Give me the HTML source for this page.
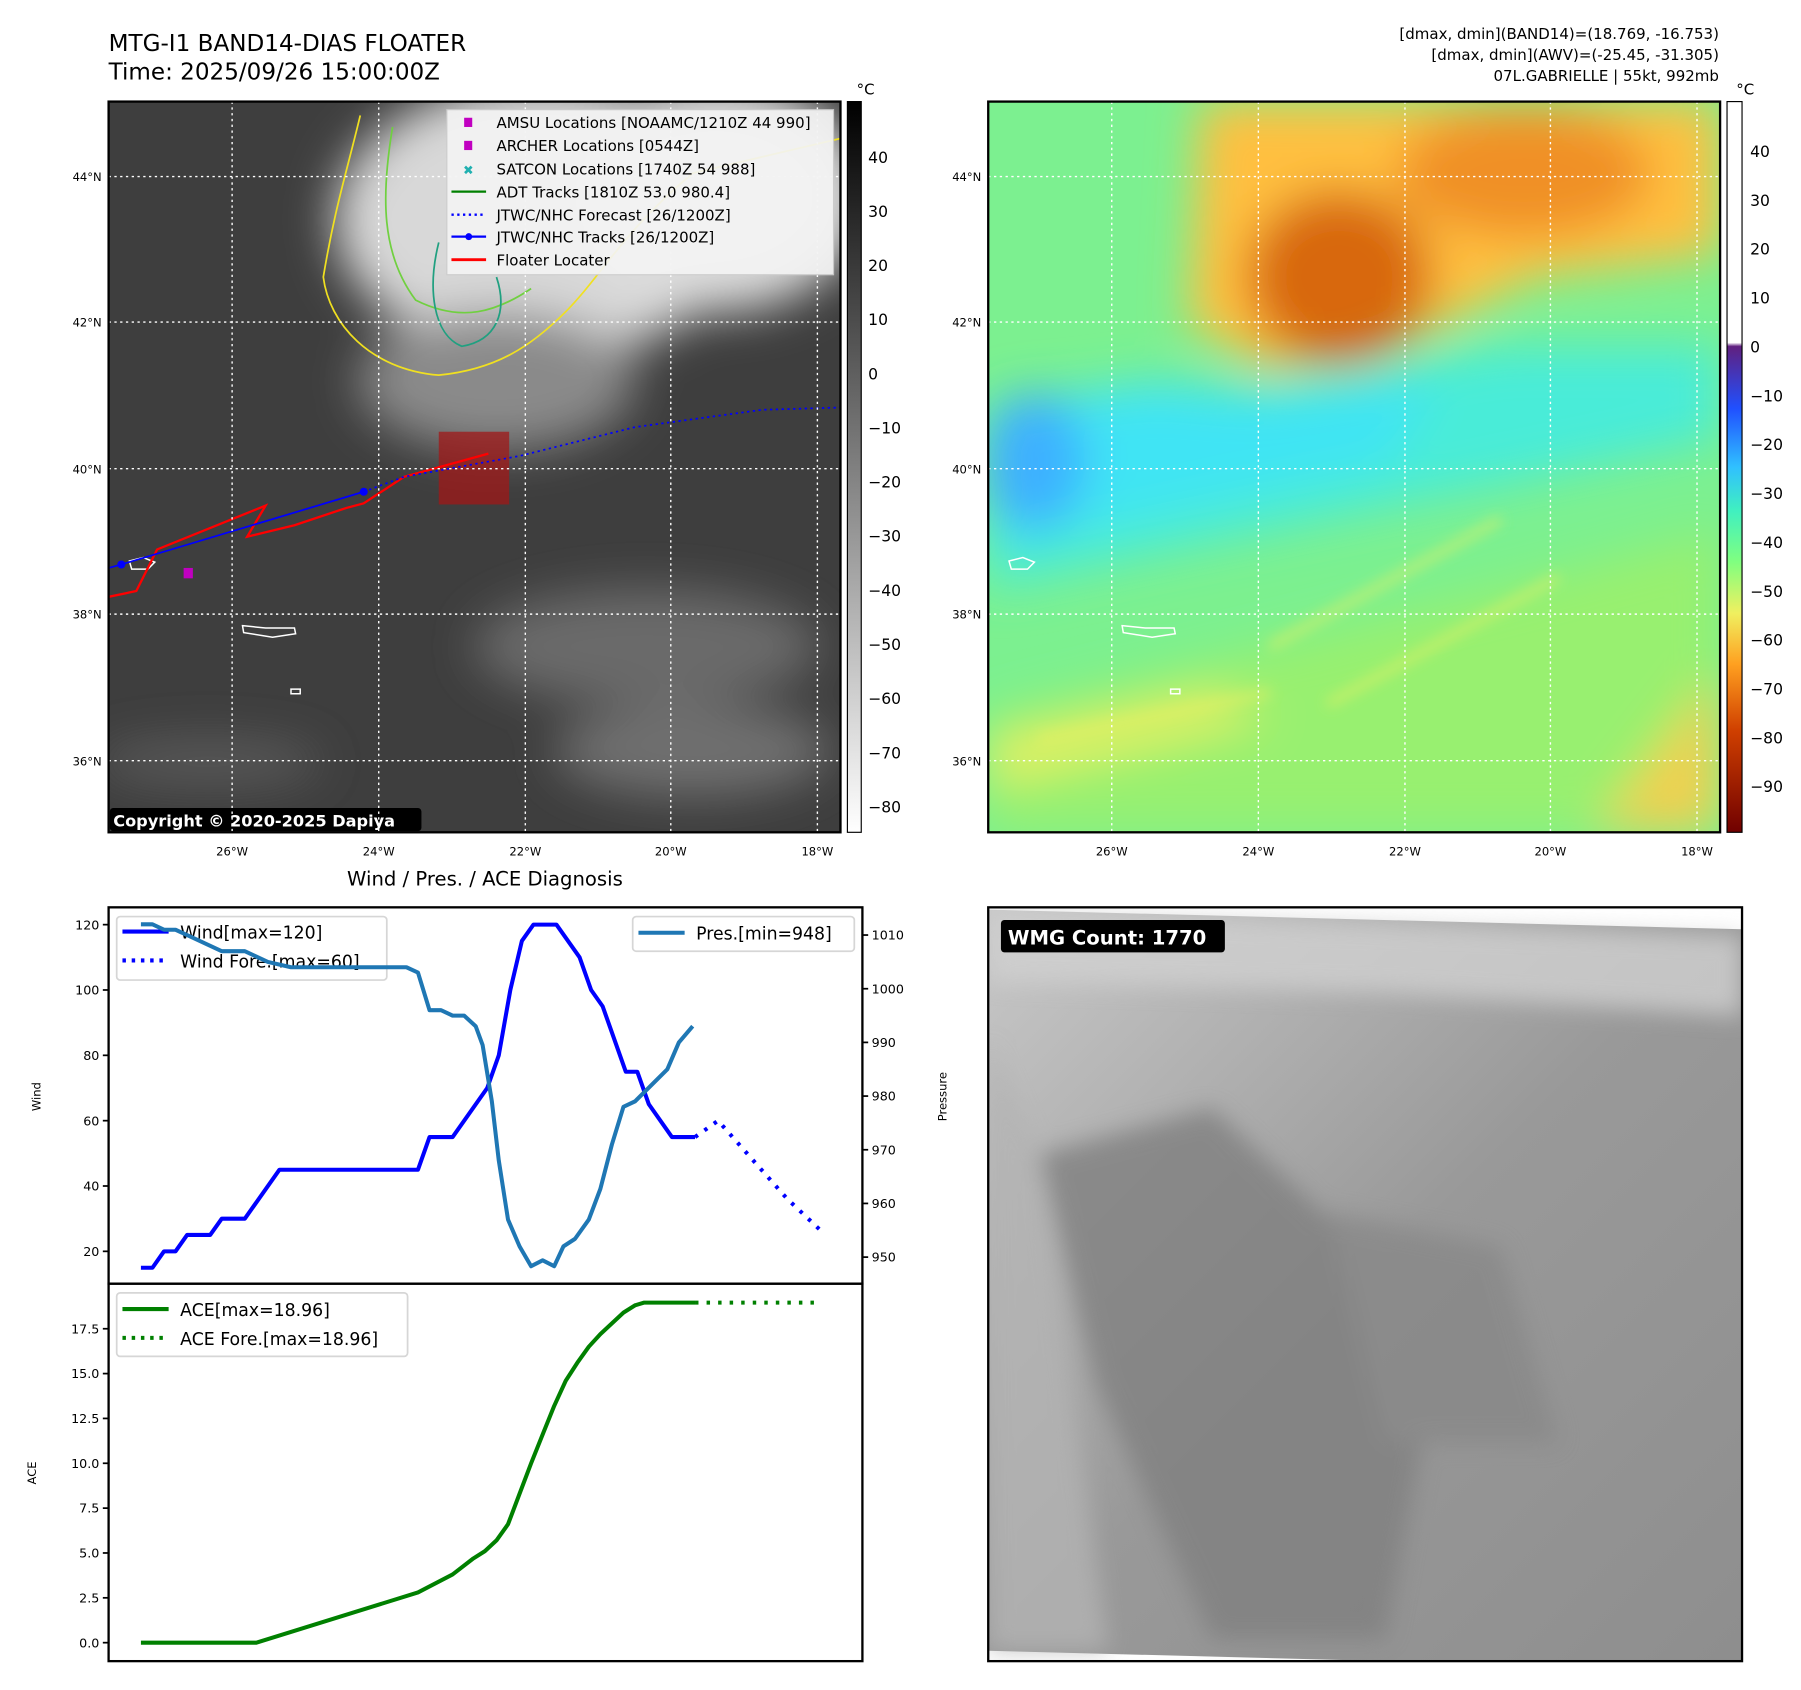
<!DOCTYPE html>
<html><head><meta charset="utf-8">
<style>
html,body{margin:0;padding:0;background:#fff;}
svg{display:block;font-family:"DejaVu Sans","Liberation Sans",sans-serif;}
</style></head>
<body>
<svg id="fig" width="1801" height="1690" viewBox="0 0 1560 1464" xmlns="http://www.w3.org/2000/svg">
<defs>
<clipPath id="c1"><rect x="94" y="88" width="634" height="633"/></clipPath>
<clipPath id="c2"><rect x="856" y="88" width="634" height="633"/></clipPath>
<clipPath id="c3"><rect x="856" y="786" width="653" height="653"/></clipPath>
<filter id="b20"><feGaussianBlur stdDeviation="20"/></filter>
<filter id="b10"><feGaussianBlur stdDeviation="10"/></filter>
<filter id="b6"><feGaussianBlur stdDeviation="6"/></filter>
<linearGradient id="gcb" x1="0" y1="0" x2="0" y2="1"><stop offset="0" stop-color="#000"/><stop offset="1" stop-color="#fff"/></linearGradient>
<linearGradient id="ccb" x1="0" y1="0" x2="0" y2="1">
<stop offset="0" stop-color="#ffffff"/><stop offset="0.33" stop-color="#ffffff"/>
<stop offset="0.335" stop-color="#602080"/><stop offset="0.42" stop-color="#2050ff"/>
<stop offset="0.5" stop-color="#30c0ff"/><stop offset="0.56" stop-color="#40f0c0"/>
<stop offset="0.63" stop-color="#80ff80"/><stop offset="0.7" stop-color="#f0f060"/>
<stop offset="0.77" stop-color="#ffa020"/><stop offset="0.86" stop-color="#d04000"/>
<stop offset="1" stop-color="#700000"/></linearGradient>
<linearGradient id="wgrey" x1="0" y1="0" x2="1" y2="1">
<stop offset="0" stop-color="#c8c8c8"/><stop offset="0.5" stop-color="#999"/><stop offset="1" stop-color="#8e8e8e"/></linearGradient>
</defs>

<text x="94" y="44" font-size="20">MTG-I1 BAND14-DIAS FLOATER</text>
<text x="94" y="69" font-size="20">Time: 2025/09/26 15:00:00Z</text>
<g font-size="13" text-anchor="end">
<text x="1489" y="34">[dmax, dmin](BAND14)=(18.769, -16.753)</text>
<text x="1489" y="52">[dmax, dmin](AWV)=(-25.45, -31.305)</text>
<text x="1489" y="70">07L.GABRIELLE | 55kt, 992mb</text>
</g>

<!-- MAP 1 -->
<g clip-path="url(#c1)">
<rect x="94" y="88" width="634" height="633" fill="#3e3e3e"/>
<g filter="url(#b20)">
<ellipse cx="470" cy="190" rx="180" ry="120" fill="#d8d8d8"/>
<ellipse cx="620" cy="170" rx="130" ry="100" fill="#dcdcdc"/>
<ellipse cx="430" cy="330" rx="120" ry="60" fill="#8a8a8a"/>
<ellipse cx="560" cy="560" rx="150" ry="50" fill="#6a6a6a"/>
<ellipse cx="600" cy="650" rx="120" ry="40" fill="#6f6f6f"/>
<ellipse cx="180" cy="660" rx="100" ry="20" fill="#5a5a5a"/>
</g>
<g fill="none" stroke-width="1.5">
<path d="M312,100 C300,150 290,180 280,240 C285,280 320,320 380,325 C430,320 460,300 490,270 C520,240 540,200 600,150 L728,120" stroke="#f0e020"/>
<path d="M340,110 C330,170 330,220 360,260 C400,280 430,270 460,250" stroke="#70d040"/>
<path d="M380,210 C370,250 375,290 400,300 C430,295 440,270 430,240" stroke="#20a080"/>
</g>
<rect x="380" y="374" width="61" height="63" fill="#a01818" opacity="0.75"/>
<g fill="none" stroke="#fff" stroke-width="1.3">
<path d="M112,486 l12,-3 l10,4 l-6,6 l-14,0z"/>
<path d="M210,542 l20,2 l25,0 l1,5 l-20,3 l-25,-4z"/>
<path d="M252,597 l8,0 l0,4 l-8,0z"/>
</g>
<polyline points="94,517 118,512 136,476 230,438 214,465 255,455 300,440 315,436 350,413 423,393" fill="none" stroke="#ff0000" stroke-width="2"/>
<polyline points="94,492 105,489 315,426" fill="none" stroke="#0000ff" stroke-width="1.5"/>
<circle cx="105" cy="489" r="3.5" fill="#0000ff"/><circle cx="315" cy="426" r="3.5" fill="#0000ff"/>
<polyline points="315,426 350,413 450,395 550,370 660,355 728,353" fill="none" stroke="#0000ff" stroke-width="1.5" stroke-dasharray="2,3"/>
<rect x="159" y="492" width="8" height="9" fill="#c000c0"/>
<rect x="95" y="700" width="270" height="20" rx="3" fill="#000"/>
<text x="98" y="716" font-size="14" font-weight="bold" fill="#fff">Copyright © 2020-2025 Dapiya</text>
</g>
<g stroke="#fff" stroke-width="1.2" stroke-dasharray="2,3">
<line x1="201" y1="88" x2="201" y2="721"/><line x1="328" y1="88" x2="328" y2="721"/><line x1="455" y1="88" x2="455" y2="721"/><line x1="581" y1="88" x2="581" y2="721"/><line x1="708" y1="88" x2="708" y2="721"/>
<line x1="94" y1="153" x2="728" y2="153"/><line x1="94" y1="279" x2="728" y2="279"/><line x1="94" y1="406" x2="728" y2="406"/><line x1="94" y1="532" x2="728" y2="532"/><line x1="94" y1="659" x2="728" y2="659"/>
</g>
<rect x="94" y="88" width="634" height="633" fill="none" stroke="#000" stroke-width="2"/>
<g font-size="13">
<rect x="387" y="95" width="335" height="143" fill="#f4f4f4" opacity="0.92" stroke="#ccc"/>
<rect x="402" y="102" width="7" height="8" fill="#c000c0"/><text x="430" y="111">AMSU Locations [NOAAMC/1210Z 44 990]</text>
<rect x="402" y="122" width="7" height="8" fill="#c000c0"/><text x="430" y="131">ARCHER Locations [0544Z]</text>
<text x="401" y="151" fill="#20b0b0" font-size="11">✖</text><text x="430" y="151">SATCON Locations [1740Z 54 988]</text>
<line x1="391" y1="166" x2="421" y2="166" stroke="#008000" stroke-width="2"/><text x="430" y="171">ADT Tracks [1810Z 53.0 980.4]</text>
<line x1="391" y1="186" x2="421" y2="186" stroke="#0000ff" stroke-width="2" stroke-dasharray="2,3"/><text x="430" y="191">JTWC/NHC Forecast [26/1200Z]</text>
<line x1="391" y1="205" x2="421" y2="205" stroke="#0000ff" stroke-width="2"/><circle cx="406" cy="205" r="3" fill="#00f"/><text x="430" y="210">JTWC/NHC Tracks [26/1200Z]</text>
<line x1="391" y1="225" x2="421" y2="225" stroke="#ff0000" stroke-width="2.5"/><text x="430" y="230">Floater Locater</text>
</g>
<rect x="734" y="88" width="12" height="633" fill="url(#gcb)" stroke="#000" stroke-width="1"/>
<text x="742" y="82" font-size="13">°C</text>
<g font-size="13.5" id="cb1"></g>

<!-- MAP 2 -->
<g clip-path="url(#c2)">
<rect x="856" y="88" width="634" height="633" fill="#7cf090"/>
<g filter="url(#b20)">
<path d="M856,390 L1000,350 L1150,330 L1300,300 L1490,300 L1490,380 L1300,420 L1150,450 L1000,480 L856,510z" fill="#48ecd8"/>
<path d="M856,350 L1000,330 L1100,340 L1250,330 L1200,400 L1100,420 L960,450 L856,470z" fill="#40e4f4"/>
<ellipse cx="895" cy="400" rx="45" ry="60" fill="#3cb0ff"/>
<path d="M1040,88 L1490,88 L1490,220 L1330,240 L1230,290 L1100,320 L1030,280z" fill="#ffc040"/>
<ellipse cx="1160" cy="240" rx="80" ry="75" fill="#d86810"/>
<ellipse cx="1320" cy="150" rx="110" ry="55" fill="#f09028"/>
<path d="M856,620 L1100,560 L1300,510 L1490,460 L1490,721 L856,721z" fill="#98f070"/>
<path d="M856,640 L1050,600 L1100,620 L856,680z" fill="#e8f060"/>
<path d="M1380,721 L1490,580 L1490,721z" fill="#f0d050"/>
</g>
<g filter="url(#b6)" stroke="#f0f060" stroke-width="5" fill="none" opacity="0.8">
<path d="M1100,560 L1300,450"/><path d="M1150,610 L1350,500"/><path d="M900,640 L1100,600"/>
</g>
<g fill="none" stroke="#fff" stroke-width="1.3">
<path d="M874,486 l12,-3 l10,4 l-6,6 l-14,0z"/>
<path d="M972,542 l20,2 l25,0 l1,5 l-20,3 l-25,-4z"/>
<path d="M1014,597 l8,0 l0,4 l-8,0z"/>
</g>
</g>
<g stroke="#fff" stroke-width="1.2" stroke-dasharray="2,3">
<line x1="963" y1="88" x2="963" y2="721"/><line x1="1090" y1="88" x2="1090" y2="721"/><line x1="1217" y1="88" x2="1217" y2="721"/><line x1="1343" y1="88" x2="1343" y2="721"/><line x1="1470" y1="88" x2="1470" y2="721"/>
<line x1="856" y1="153" x2="1490" y2="153"/><line x1="856" y1="279" x2="1490" y2="279"/><line x1="856" y1="406" x2="1490" y2="406"/><line x1="856" y1="532" x2="1490" y2="532"/><line x1="856" y1="659" x2="1490" y2="659"/>
</g>
<rect x="856" y="88" width="634" height="633" fill="none" stroke="#000" stroke-width="2"/>
<rect x="1496" y="88" width="13" height="633" fill="url(#ccb)" stroke="#000" stroke-width="1"/>
<text x="1504" y="82" font-size="13">°C</text>
<g font-size="13.5" id="cb2"></g>
<g font-size="10" id="maplabels"></g>

<!-- Wind chart -->
<text x="420" y="767" font-size="17" text-anchor="middle">Wind / Pres. / ACE Diagnosis</text>
<g font-size="15">
<rect x="101" y="794" width="234" height="55" rx="3" fill="#fff" opacity="0.8" stroke="#ccc" stroke-width="1.5"/>
<line x1="106" y1="807" x2="146" y2="807" stroke="#0000ff" stroke-width="3.5"/><text x="156" y="813">Wind[max=120]</text>
<line x1="106" y1="832" x2="146" y2="832" stroke="#0000ff" stroke-width="3.5" stroke-dasharray="3,5"/><text x="156" y="838">Wind Fore.[max=60]</text>
</g>
<g id="windchart"></g>
<g id="acechart"></g>
<rect x="94" y="786" width="653" height="326" fill="none" stroke="#000" stroke-width="2"/>
<rect x="94" y="1112" width="653" height="327" fill="none" stroke="#000" stroke-width="2"/>
<text transform="translate(35,950) rotate(-90)" font-size="10" text-anchor="middle">Wind</text>
<text transform="translate(820,950) rotate(-90)" font-size="10" text-anchor="middle">Pressure</text>
<text transform="translate(31,1276) rotate(-90)" font-size="10" text-anchor="middle">ACE</text>
<g font-size="15">
<rect x="548" y="794" width="192" height="30" rx="3" fill="#fff" opacity="0.8" stroke="#ccc" stroke-width="1.5"/>
<line x1="553" y1="808" x2="593" y2="808" stroke="#1f77b4" stroke-width="3.5"/><text x="603" y="814">Pres.[min=948]</text>
</g>
<g font-size="15">
<rect x="101" y="1120" width="252" height="55" rx="3" fill="#fff" opacity="0.8" stroke="#ccc" stroke-width="1.5"/>
<line x1="106" y1="1134" x2="146" y2="1134" stroke="#008000" stroke-width="3.5"/><text x="156" y="1140">ACE[max=18.96]</text>
<line x1="106" y1="1159" x2="146" y2="1159" stroke="#008000" stroke-width="3.5" stroke-dasharray="3,5"/><text x="156" y="1165">ACE Fore.[max=18.96]</text>
</g>

<!-- WMG -->
<g clip-path="url(#c3)">
<rect x="856" y="786" width="653" height="653" fill="#fff"/>
<polygon points="856,788 1509,805 1509,1439 1200,1439 856,1430" fill="url(#wgrey)"/>
<g filter="url(#b10)" opacity="0.8">
<path d="M900,1000 L1050,960 L1250,1150 L1200,1420 L1050,1420 L950,1200z" fill="#808080"/>
<path d="M1150,1050 L1300,1080 L1350,1250 L1200,1250z" fill="#888"/>
<path d="M856,790 L1200,800 L1509,810 L1509,880 L1200,860 L856,850z" fill="#d0d0d0"/>
<path d="M856,900 L900,1000 L960,1430 L856,1430z" fill="#b4b4b4"/>
</g>
<rect x="867" y="797" width="194" height="28" rx="3" fill="#000"/>
<text x="873" y="818" font-size="17" font-weight="bold" fill="#fff">WMG Count: 1770</text>
</g>
<rect x="856" y="786" width="653" height="653" fill="none" stroke="#000" stroke-width="2"/>
</svg>

<script>
const windT = [0,1,2,3,4,6,7,9,12,24,25,27,30,31,32,33,34,36,38,39,40,42,43,44,46,48];
const windV = [15,15,20,20,25,25,30,30,45,45,55,55,70,80,100,115,120,120,110,100,95,75,75,65,55,55];
const windForeT = [48,50,53,56,59];
const windForeV = [55,60,48,36,26];
const presT = [0,1,2,3,4,6,7,9,11,13,23,24,25,26,27,28,29,29.6,30.4,31,31.8,32.8,33.8,34.8,35.8,36.6,37.6,38.8,39.8,40.8,41.8,42.8,45.6,46.6,47.8];
const presV = [1012,1012,1011,1011,1010,1008,1007,1007,1005,1004,1004,1003,996,996,995,995,993,989.5,979,968,957,952,948.3,949.4,948.3,952,953.4,957,962.7,971,978,979,985,990,993];
const aceT = [0,10,24,27,28.8,29.8,30.8,31.8,32.8,33.8,34.8,35.8,36.8,37.8,38.8,39.8,40.8,41.8,42.8,43.6,48];
const aceV = [0,0,2.8,3.8,4.7,5.1,5.7,6.6,8.3,10,11.6,13.2,14.6,15.6,16.5,17.2,17.8,18.4,18.8,18.96,18.96];
const aceForeT = [48,59];
const aceForeV = [18.96,18.96];
const windTicks = [20,40,60,80,100,120];
const presTicks = [950,960,970,980,990,1000,1010];
const aceTicks = [0,2.5,5,7.5,10,12.5,15,17.5];
const cb1Ticks = [40,30,20,10,0,-10,-20,-30,-40,-50,-60,-70,-80];
const cb2Ticks = [40,30,20,10,0,-10,-20,-30,-40,-50,-60,-70,-80,-90];
const lonTicks = ["26°W","24°W","22°W","20°W","18°W"];
const latTicks = ["44°N","42°N","40°N","38°N","36°N"];

const NS="http://www.w3.org/2000/svg";
const xT = t => 122 + t*10;
const yW = v => 801 + (120 - v)*2.83;
const yP = p => 810 + (1010 - p)*4.65;
const yA = a => 1423 - a*15.54;
const yC1 = v => 136 + (40 - v)*4.69;
const yC2 = v => 131 + (40 - v)*4.233;

function mk(tag, attrs, parent){const e=document.createElementNS(NS,tag);for(const k in attrs)e.setAttribute(k,attrs[k]);parent.appendChild(e);return e;}
function line(ts, vs, fy, color, dash, parent, name){
  const pts = ts.map((t,i)=>xT(t).toFixed(1)+","+fy(vs[i]).toFixed(1)).join(" ");
  const p = mk("polyline",{points:pts,fill:"none",stroke:color,"stroke-width":3.5,"stroke-linejoin":"round"},parent);
  if(dash) p.setAttribute("stroke-dasharray",dash);
  
  
}
function tickY(vals, fy, x, side, parent, fmt){
  vals.forEach(v=>{
    const y=fy(v);
    mk("line",{x1:x,y1:y,x2:x+(side<0?-5:5),y2:y,stroke:"#000","stroke-width":1.5},parent);
    const t=mk("text",{x:side<0?x-8:x+8,y:y+4,"font-size":11,"text-anchor":side<0?"end":"start"},parent);
    t.textContent=fmt?fmt(v):v;
    
    
  });
}
const wg=document.getElementById("windchart");
const ag=document.getElementById("acechart");
tickY(windTicks,yW,94,-1,wg);
tickY(presTicks,yP,747,1,wg);
tickY(aceTicks,yA,94,-1,ag,v=>v.toFixed(1));
line(windT,windV,yW,"#0000ff",null,wg,"wind-line");
line(windForeT,windForeV,yW,"#0000ff","3,7",wg,"wind-forecast-line");
line(presT,presV,yP,"#1f77b4",null,wg,"pressure-line");
line(aceT,aceV,yA,"#008000",null,ag,"ace-line");
line(aceForeT,aceForeV,yA,"#008000","3,7",ag,"ace-forecast-line");

function cb(id,vals,fy,x){
  const g=document.getElementById(id);
  vals.forEach(v=>{const y=fy(v);
    const t=mk("text",{x:x,y:y+5},g);t.textContent=(v<0?"\u2212"+(-v):v);
    
    
  });
}
cb("cb1",cb1Ticks,yC1,752);
cb("cb2",cb2Ticks,yC2,1516);

const ml=document.getElementById("maplabels");
const lonX=[201,328,455,581,708], latY=[153,279,406,532,659];
[0,762].forEach(off=>{
  lonTicks.forEach((s,i)=>{const t=mk("text",{x:lonX[i]+off,y:741,"text-anchor":"middle"},ml);t.textContent=s;
    
    });
  latTicks.forEach((s,i)=>{const t=mk("text",{x:88+off,y:latY[i]+4,"text-anchor":"end"},ml);t.textContent=s;
    
    });
});
</script>
</body></html>
